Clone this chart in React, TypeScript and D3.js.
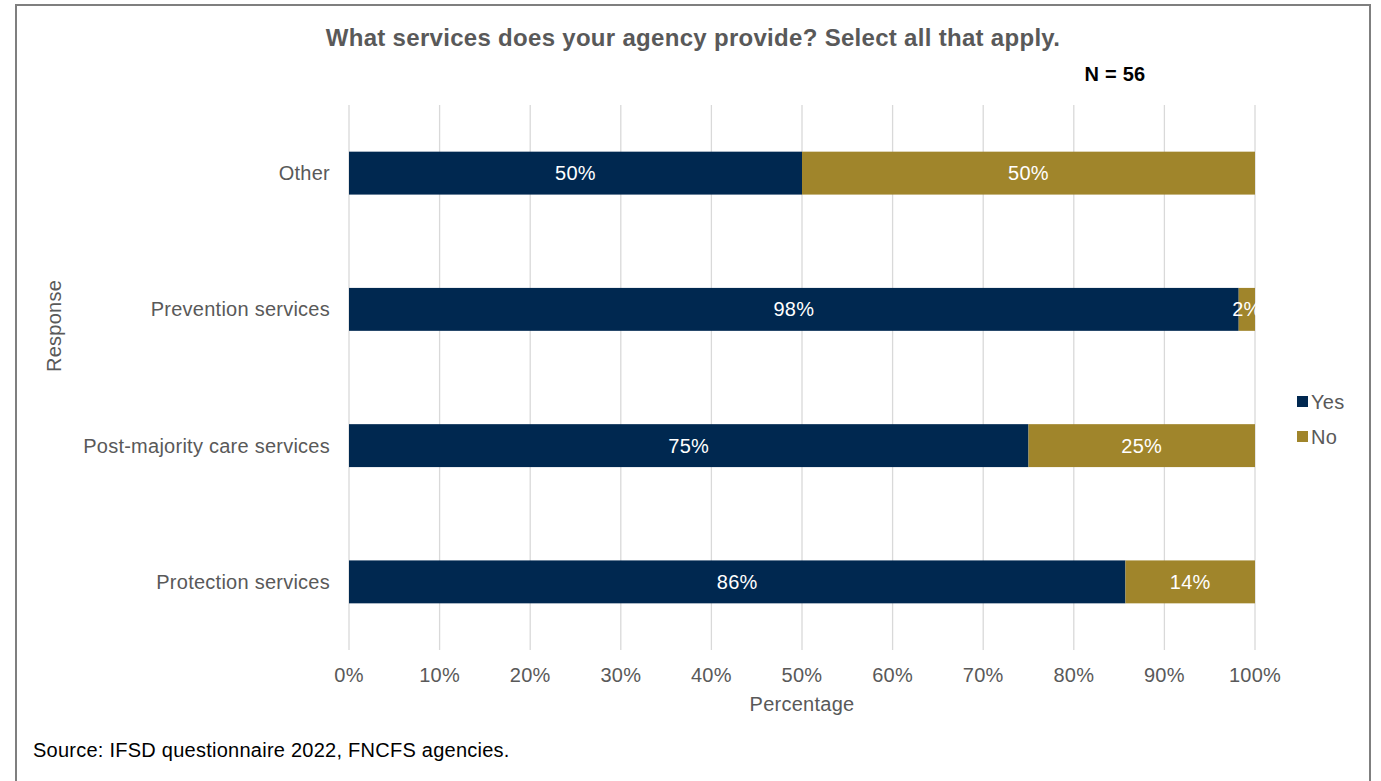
import React from "react";
import * as d3 from "d3";

const categories = ["Other", "Prevention services", "Post-majority care services", "Protection services"];
const yesValues = [50, 98.2, 75, 85.7];
const noValues = [50, 1.8, 25, 14.3];
const yesLabels = ["50%", "98%", "75%", "86%"];
const noLabels = ["50%", "2%", "25%", "14%"];
const xTicks = [0, 10, 20, 30, 40, 50, 60, 70, 80, 90, 100];
const seriesNames = ["Yes", "No"];
const colors = ["#002850", "#a0852b"];

const W = 1381;
const H = 781;
const FONT = "'Liberation Sans', Arial, sans-serif";
const FS = 20;
const LS = 0.25;

export default function App() {
  const x = d3.scaleLinear().domain([0, 100]).range([349, 1255]);
  const y = d3.scaleBand().domain(categories).range([105, 650]).paddingInner(0.685).paddingOuter(0.3425);
  const bh = y.bandwidth();
  return (
    <svg width={W} height={H} style={{ position: "absolute", left: 0, top: 0, fontFamily: FONT, letterSpacing: LS }}>
      <rect x={0} y={0} width={W} height={H} fill="#fff" />
      <path d={`M16,${H} V5 H1370 V${H}`} fill="none" stroke="#7f7f7f" strokeWidth={2} />
      <text x={693} y={46} textAnchor="middle" fontSize={24} fontWeight="bold" fill="#595959" letterSpacing={0.3}>
        What services does your agency provide? Select all that apply.
      </text>
      <text x={1115} y={81} textAnchor="middle" fontSize={FS} fontWeight="bold" fill="#000">N = 56</text>
      {xTicks.map((t) => (
        <g key={t}>
          <line x1={x(t)} x2={x(t)} y1={105} y2={650} stroke="#d9d9d9" strokeWidth={1.3} />
          <text x={x(t)} y={682} textAnchor="middle" fontSize={FS} fill="#595959">{t}%</text>
        </g>
      ))}
      {categories.map((c, i) => {
        const y0 = y(c)!;
        const yEnd = yesValues[i];
        return (
          <g key={c}>
            <rect x={x(0)} y={y0} width={x(yEnd) - x(0)} height={bh} fill={colors[0]} />
            <rect x={x(yEnd)} y={y0} width={x(yEnd + noValues[i]) - x(yEnd)} height={bh} fill={colors[1]} />
            <text x={(x(0) + x(yEnd)) / 2} y={y0 + bh / 2 + 7} textAnchor="middle" fontSize={FS} fill="#fff">{yesLabels[i]}</text>
            <text x={(x(yEnd) + x(yEnd + noValues[i])) / 2} y={y0 + bh / 2 + 7} textAnchor="middle" fontSize={FS} fill="#fff">{noLabels[i]}</text>
            <text x={330} y={y0 + bh / 2 + 7} textAnchor="end" fontSize={FS} fill="#595959">{c}</text>
          </g>
        );
      })}
      <text x={802} y={711} textAnchor="middle" fontSize={FS} fill="#595959">Percentage</text>
      <text transform={`translate(61,326) rotate(-90)`} textAnchor="middle" fontSize={FS} fill="#595959">Response</text>
      {seriesNames.map((s, i) => (
        <g key={s}>
          <rect x={1297} y={396 + i * 35} width={11} height={11} fill={colors[i]} />
          <text x={1311} y={409 + i * 35} fontSize={FS} fill="#595959">{s}</text>
        </g>
      ))}
      <text x={33} y={757} fontSize={FS} fill="#000">Source: IFSD questionnaire 2022, FNCFS agencies.</text>
    </svg>
  );
}
